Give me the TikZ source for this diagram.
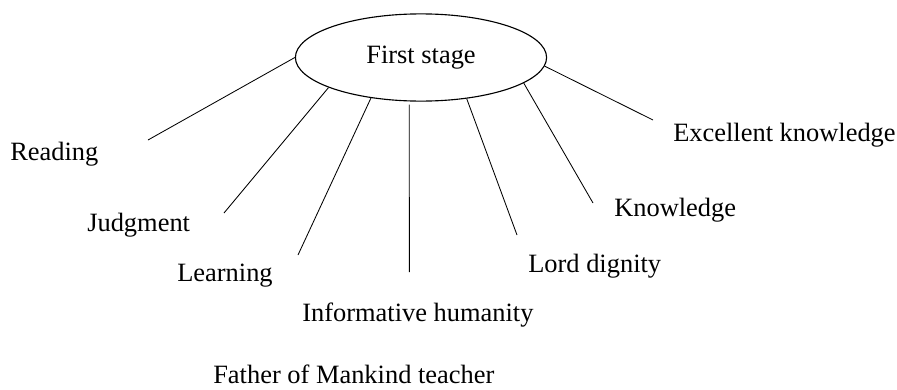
\documentclass[tikz,border=0pt]{standalone}
\usepackage{fontspec}
\setmainfont{Liberation Serif}
\usetikzlibrary{shapes.geometric}
\begin{document}
\begin{tikzpicture}[
		branch/.style={-, line width=0.6pt},
		leaf/.style={anchor=base west, inner sep=0pt, font=\fontsize{18.8}{22}\selectfont}]
		
		%Frame
		\useasboundingbox (0,0) rectangle (22.425,-9.725);
		
		%Ellipse
		\node (stage) at (10.525,-1.4375) [ellipse, draw, minimum width=6.28cm, minimum 
		height=2.18cm, inner sep=0pt, line width=0.8pt, font=\fontsize{18.8}{22}\selectfont]{First stage};
		
		%Line ends
		\coordinate (readingEnd) at (3.70,-3.50);
		\coordinate (judgmentEnd) at (5.60,-5.325);
		\coordinate (learningEnd) at (7.45,-6.375);
		\coordinate (humanityEnd) at (10.235,-6.80);
		\coordinate (lordEnd) at (12.925,-5.875);
		\coordinate (knowledgeEnd) at (14.825,-5.075);
		\coordinate (excellentEnd) at (16.325,-3.00);
		
		%Lines
		\draw[branch] (stage.180) -- (readingEnd);
		\draw[branch] (stage.198.7) -- (judgmentEnd);
		\draw[branch] (stage.219.7) -- (learningEnd);
		\draw[branch, shorten <=0.08cm] (stage.255) -- (humanityEnd);
		\draw[branch] (stage.318.6) -- (lordEnd);
		\draw[branch] (stage.346.7) -- (knowledgeEnd);
		\draw[branch] (stage.356.6) -- (excellentEnd);
		
		%Names
		\node (reading) at (0.25,-4.0) [leaf]{Reading};
		\node (judgment) at (2.175,-5.79) [leaf]{Judgment};
		\node (learning) at (4.425,-7.04) [leaf]{Learning};
		\node (humanity) at (7.55,-8.04) [leaf]{Informative humanity};
		\node (father) at (5.325,-9.58) [leaf]{Father of Mankind teacher};
		\node (lord) at (13.2,-6.82) [leaf]{Lord dignity};
		\node (knowledge) at (15.35,-5.42) [leaf]{Knowledge};
		\node (excellent) at (16.825,-3.54) [leaf]{Excellent knowledge};
		
		\end{tikzpicture}
\end{document}
